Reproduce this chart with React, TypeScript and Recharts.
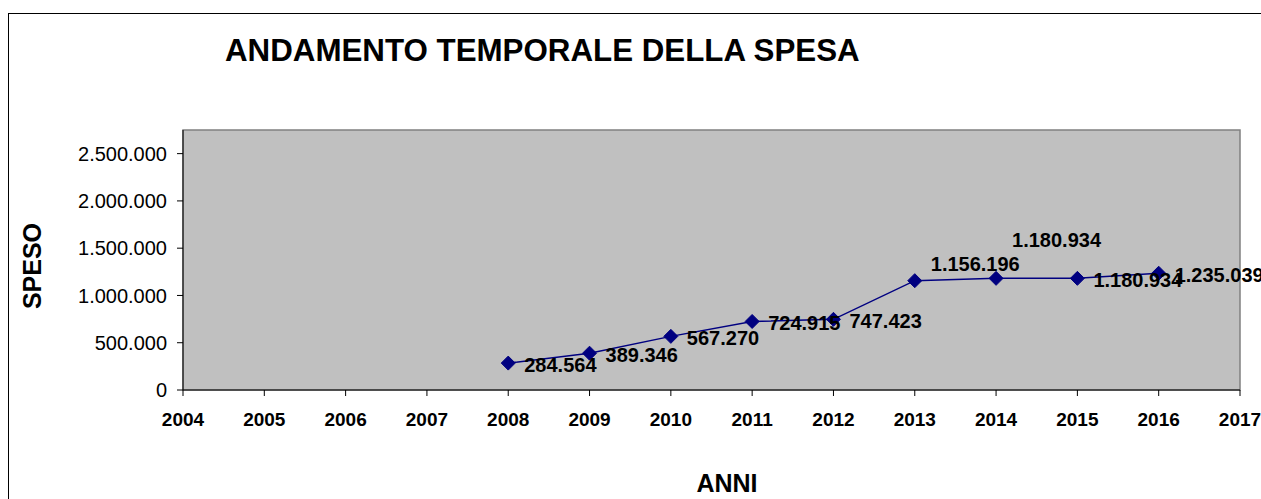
import React from "react"
import { LineChart, Line, XAxis, YAxis, ReferenceArea, LabelList } from "recharts"

const years = [2008, 2009, 2010, 2011, 2012, 2013, 2014, 2015, 2016]
const spesa = [284564, 389346, 567270, 724915, 747423, 1156196, 1180934, 1180934, 1235039]
const yearTicks = [2004, 2005, 2006, 2007, 2008, 2009, 2010, 2011, 2012, 2013, 2014, 2015, 2016, 2017]
const spesoTicks = [0, 500000, 1000000, 1500000, 2000000, 2500000]

const data = years.map((year, i) => ({ year, spesa: spesa[i] }))

const FONT = '"Liberation Sans", Arial, sans-serif'
const NAVY = "#000080"
const Y_MAX = 2750000

// labels of 2013 and 2014 sit above the line in the original, the rest to the right
const labelShift: Record<number, number> = { 5: -17, 6: -38 }

const fmt = (v: number) => String(Math.round(v)).replace(/\B(?=(\d{3})+(?!\d))/g, ".")

function Diamond(props: any) {
  const { cx, cy } = props
  if (cx == null || cy == null) return null
  const r = 7
  return (
    <polygon
      points={`${cx},${cy - r} ${cx + r},${cy} ${cx},${cy + r} ${cx - r},${cy}`}
      fill={NAVY}
      stroke={NAVY}
    />
  )
}

function ValueLabel(props: any) {
  const { x, y, value, index } = props
  const dy = labelShift[index] ?? 2
  return (
    <text
      x={x + 16}
      y={y + dy}
      dominantBaseline="central"
      fontFamily={FONT}
      fontWeight="bold"
      fontSize={20}
      fill="#000"
    >
      {fmt(value)}
    </text>
  )
}

export default function App() {
  // fixed so the page never gets scrollbars
  return (
    <div
      style={{
        position: "fixed",
        left: 8,
        top: 8,
        width: 1253,
        height: 491,
        overflow: "hidden",
        background: "#fff",
      }}
    >
      <div
        style={{
          position: "absolute",
          left: 0,
          top: 5,
          width: 2000,
          height: 2000,
          border: "1px solid #000",
          boxSizing: "border-box",
        }}
      />
      <svg width={1253} height={491} style={{ position: "absolute", left: 0, top: 0 }}>
        <text x={217} y={53} fontFamily={FONT} fontWeight="bold" fontSize={31.3} fill="#000">
          ANDAMENTO TEMPORALE DELLA SPESA
        </text>
        <text
          x={33}
          y={258}
          transform="rotate(-90, 33, 258)"
          textAnchor="middle"
          fontFamily={FONT}
          fontWeight="bold"
          fontSize={25}
          fill="#000"
        >
          SPESO
        </text>
        <text x={719} y={484} textAnchor="middle" fontFamily={FONT} fontWeight="bold" fontSize={25} fill="#000">
          ANNI
        </text>
      </svg>
      <div style={{ position: "absolute", left: 0, top: 0 }}>
        <LineChart width={1253} height={491} data={data} margin={{ top: 122, right: 21, bottom: 49, left: 0 }}>
          <ReferenceArea
            x1={2004}
            x2={2017}
            y1={0}
            y2={Y_MAX}
            fill="#C0C0C0"
            fillOpacity={1}
            stroke="#808080"
            strokeWidth={1.5}
          />
          <XAxis
            type="number"
            dataKey="year"
            domain={[2004, 2017]}
            ticks={yearTicks}
            interval={0}
            height={60}
            stroke="#000"
            tickSize={6}
            tickMargin={17}
            tick={{ fill: "#000", fontFamily: FONT, fontWeight: "bold", fontSize: 19 }}
          />
          <YAxis
            type="number"
            domain={[0, Y_MAX]}
            ticks={spesoTicks}
            interval={0}
            width={175}
            stroke="#000"
            tickSize={6}
            tickMargin={10}
            tickFormatter={fmt}
            tick={{ fill: "#000", fontFamily: FONT, fontSize: 20 }}
          />
          <Line
            dataKey="spesa"
            stroke={NAVY}
            strokeWidth={1.5}
            dot={<Diamond />}
            activeDot={false}
            isAnimationActive={false}
          >
            <LabelList dataKey="spesa" content={<ValueLabel />} />
          </Line>
        </LineChart>
      </div>
    </div>
  )
}
